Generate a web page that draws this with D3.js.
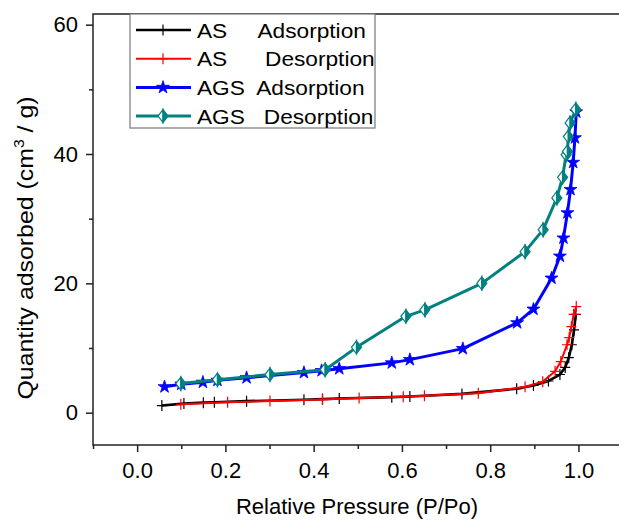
<!DOCTYPE html>
<html>
<head>
<meta charset="utf-8">
<script src="https://cdnjs.cloudflare.com/ajax/libs/d3/7.8.5/d3.min.js"></script>
<style>
  html, body { margin: 0; padding: 0; background: #fff; }
  svg { display: block; font-family: "Liberation Sans", Arial, sans-serif; }
</style>
</head>
<body>
<div id="chart"></div>
<script>
// ---- data ----
const asAdsP = [0.056, 0.106, 0.150, 0.175, 0.248, 0.378, 0.420, 0.458, 0.577, 0.618, 0.736, 0.860, 0.898, 0.932, 0.958, 0.970, 0.978, 0.985, 0.990, 0.994];
const asAdsV = [1.1, 1.4, 1.55, 1.62, 1.78, 2.0, 2.1, 2.2, 2.4, 2.5, 2.9, 3.7, 4.2, 4.9, 5.9, 7.0, 8.5, 10.5, 12.8, 15.2];

const asDesP = [0.099, 0.205, 0.301, 0.420, 0.503, 0.603, 0.651, 0.773, 0.879, 0.919, 0.947, 0.960, 0.974, 0.979, 0.984, 0.989, 0.995];
const asDesV = [1.3, 1.6, 1.8, 2.05, 2.25, 2.45, 2.6, 3.0, 4.0, 4.8, 6.4, 7.9, 10.5, 11.6, 13.3, 15.2, 16.4];

const agsAdsP = [0.062, 0.100, 0.149, 0.182, 0.248, 0.378, 0.418, 0.458, 0.577, 0.618, 0.738, 0.861, 0.898, 0.939, 0.958, 0.966, 0.975, 0.982, 0.988, 0.992, 0.995];
const agsAdsV = [4.0, 4.4, 4.7, 5.0, 5.4, 6.2, 6.5, 6.8, 7.7, 8.2, 9.9, 13.9, 16.0, 20.8, 24.2, 27.0, 30.9, 34.5, 38.7, 42.5, 46.5];

const agsDesP = [0.099, 0.182, 0.301, 0.426, 0.497, 0.609, 0.652, 0.781, 0.879, 0.920, 0.951, 0.964, 0.972, 0.975, 0.977, 0.981, 0.994];
const agsDesV = [4.5, 5.1, 5.9, 6.65, 10.1, 14.9, 15.9, 20.0, 24.9, 28.3, 33.2, 36.4, 39.9, 40.4, 42.7, 44.8, 46.9];

const legendLabels = ["AS     Adsorption", "AS      Desorption", "AGS  Adsorption", "AGS   Desorption"];
const xMajor = [0, 0.2, 0.4, 0.6, 0.8, 1.0];
const xMinor = [-0.1, 0.1, 0.3, 0.5, 0.7, 0.9, 1.1];
const yMajor = [0, 20, 40, 60];
const yMinor = [10, 30, 50];

const W = 619, H = 524;
const svg = d3.select('#chart').append('svg').attr('width', W).attr('height', H);

const x = d3.scaleLinear().domain([-0.1, 1.1]).range([93, 622.6]);
const y = d3.scaleLinear().domain([-5, 61.65]).range([445, 14]);

// frame
svg.append('rect')
  .attr('x', x(-0.1)).attr('y', y(61.65))
  .attr('width', x(1.1) - x(-0.1)).attr('height', y(-5) - y(61.65))
  .attr('fill', 'none').attr('stroke', '#222').attr('stroke-width', 1.5);

// axes
const gx = svg.append('g').attr('transform', `translate(0, ${y(-5)})`);
gx.call(d3.axisBottom(x).tickValues(xMajor).tickSize(7).tickPadding(10).tickFormat(d3.format('.1f')));
const gxm = svg.append('g').attr('transform', `translate(0, ${y(-5)})`);
gxm.call(d3.axisBottom(x).tickValues(xMinor).tickSize(4).tickFormat(''));

const gy = svg.append('g').attr('transform', `translate(${x(-0.1)}, 0)`);
gy.call(d3.axisLeft(y).tickValues(yMajor).tickSize(7).tickPadding(8).tickFormat(d3.format('d')));
const gym = svg.append('g').attr('transform', `translate(${x(-0.1)}, 0)`);
gym.call(d3.axisLeft(y).tickValues(yMinor).tickSize(4).tickFormat(''));

svg.selectAll('.domain').remove();
svg.selectAll('.tick line').attr('stroke', '#222').attr('stroke-width', 1.5);
svg.selectAll('.tick text').attr('font-size', 22).attr('fill', '#000')
  .attr('font-family', '"Liberation Sans", Arial, sans-serif');

// axis titles
svg.append('text')
  .attr('x', 357).attr('y', 514)
  .attr('text-anchor', 'middle').attr('font-size', 22)
  .text('Relative Pressure (P/Po)');

const yt = svg.append('text')
  .attr('transform', 'translate(33, 248) rotate(-90) scale(1.13, 1)')
  .attr('text-anchor', 'middle').attr('font-size', 22);
yt.append('tspan').text('Quantity adsorbed (cm');
yt.append('tspan').attr('font-size', 14).attr('dy', -9).text('3');
yt.append('tspan').attr('dy', 9).text(' / g)');

// markers
const crossPath = 'M-5,0H5M0,-5.5V5.5';
const starPath = d3.symbol(d3.symbolStar, 52)();
const diamondLeft = 'M0,-6.5L-5,0L0,6.5Z';
const diamondRight = 'M0,-6.5L5,0L0,6.5Z';

function drawMarker(g, kind, color) {
  if (kind === 'cross') {
    g.append('path').attr('d', crossPath).attr('stroke', color).attr('stroke-width', 1.2).attr('fill', 'none');
  } else if (kind === 'star') {
    g.append('path').attr('d', starPath).attr('fill', color).attr('stroke', color).attr('stroke-width', 0.8);
  } else {
    g.append('path').attr('d', diamondLeft).attr('fill', '#fff').attr('stroke', color).attr('stroke-width', 1.2);
    g.append('path').attr('d', diamondRight).attr('fill', color).attr('stroke', color).attr('stroke-width', 1.2);
  }
}

const series = [
  { p: asAdsP, v: asAdsV, color: '#000000', width: 2.6, marker: 'cross' },
  { p: asDesP, v: asDesV, color: '#ff0000', width: 2.0, marker: 'cross' },
  { p: agsAdsP, v: agsAdsV, color: '#0000ff', width: 3.0, marker: 'star' },
  { p: agsDesP, v: agsDesV, color: '#008080', width: 3.0, marker: 'diamond' }
];

const line = d3.line().x(d => x(d[0])).y(d => y(d[1]));

series.forEach(s => {
  const pts = s.p.map((p, i) => [p, s.v[i]]);
  svg.append('path').datum(pts).attr('d', line)
    .attr('fill', 'none').attr('stroke', s.color).attr('stroke-width', s.width)
    .attr('stroke-linejoin', 'round');
  svg.append('g').selectAll('g').data(pts).enter().append('g')
    .attr('transform', d => `translate(${x(d[0])}, ${y(d[1])})`)
    .each(function () { drawMarker(d3.select(this), s.marker, s.color); });
});

// legend
const lg = svg.append('g');
lg.append('rect').attr('x', 130).attr('y', 14).attr('width', 245).attr('height', 114)
  .attr('fill', '#fff').attr('stroke', '#777').attr('stroke-width', 1.2);
series.forEach((s, i) => {
  const ry = 30 + i * 28.7;
  lg.append('line').attr('x1', 136).attr('x2', 191).attr('y1', ry).attr('y2', ry)
    .attr('stroke', s.color).attr('stroke-width', s.width);
  const m = lg.append('g').attr('transform', `translate(163, ${ry})`);
  drawMarker(m, s.marker, s.color);
  lg.append('text').attr('transform', `translate(197, ${ry + 7.5}) scale(1.08, 1)`)
    .attr('font-size', 21).attr('xml:space', 'preserve').style('white-space', 'pre')
    .text(legendLabels[i]);
});
</script>
</body>
</html>
